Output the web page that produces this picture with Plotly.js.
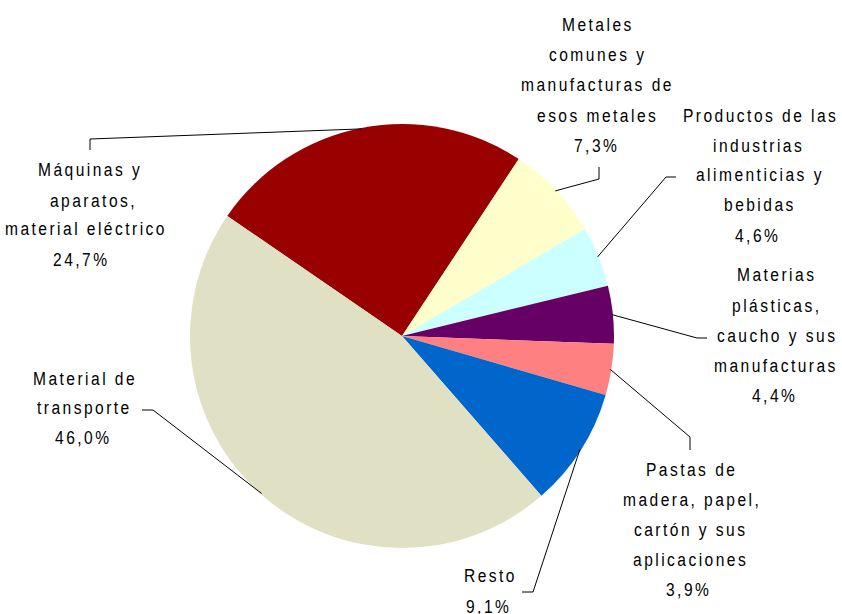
<!DOCTYPE html>
<html>
<head>
<meta charset="utf-8">
<script src="https://cdn.plot.ly/plotly-3.0.1.min.js"></script>
<style>
  html, body { margin: 0; padding: 0; background: #fff; }
  #chart { width: 842px; height: 614px; }
  .annotation-text {
    letter-spacing: 3px;
    transform: scaleX(0.82);
    transform-box: fill-box;
    transform-origin: center;
  }
</style>
</head>
<body>
<div id="chart"></div>
<script>
// ---- data ----
const categories = [
  "Máquinas y aparatos, material eléctrico",
  "Metales comunes y manufacturas de esos metales",
  "Productos de las industrias alimenticias y bebidas",
  "Materias plásticas, caucho y sus manufacturas",
  "Pastas de madera, papel, cartón y sus aplicaciones",
  "Resto",
  "Material de transporte"
];
const values = [24.7, 7.3, 4.6, 4.4, 3.9, 9.1, 46.0];
const labelLines = [
  ["Máquinas y", "aparatos,", "material eléctrico", "24,7%"],
  ["Metales", "comunes y", "manufacturas de", "esos metales", "7,3%"],
  ["Productos de las", "industrias", "alimenticias y", "bebidas", "4,6%"],
  ["Materias", "plásticas,", "caucho y sus", "manufacturas", "4,4%"],
  ["Pastas de", "madera, papel,", "cartón y sus", "aplicaciones", "3,9%"],
  ["Resto", "9,1%"],
  ["Material de", "transporte", "46,0%"]
];
const colors = ["#990000", "#FFFFCC", "#CCFFFF", "#660066", "#FF8080", "#0066CC", "#E0E0C4"];

// ---- layout (pixel geometry) ----
const W = 842, H = 614;
const CX = 402, CY = 336, R = 212;
const ROT = -55.5;
// label line positions [centerX, centerY] per line
const labelPos = [
  [[90,170],[93,201],[86,229],[81,260]],
  [[598,25],[597,55],[597,85],[597,116],[596,146]],
  [[760,116],[758,146],[760,175],[760,205],[757,236]],
  [[776,275],[776,306],[777,336],[776,366],[774,396]],
  [[691,470],[692,500],[690,530],[690,560],[688,590]],
  [[490,576],[488,607]],
  [[85,379],[84,408],[83,438]]
];
// leader line elbows (after the slice anchor point)
const leaderPts = [
  [[90,139],[90,150]],
  [[599,179],[599,167]],
  [[666,177],[676,177]],
  [[697,338],[707,338]],
  [[690,437],[690,450]],
  [[533,592],[522,592]],
  [[153,410],[142,410]]
];

const px = x => x / W;
const py = y => 1 - y / H;

const total = values.reduce((a, b) => a + b, 0);
let cum = 0;
const shapes = [];
values.forEach((v, i) => {
  const mid = (ROT + (cum + v / 2) / total * 360) * Math.PI / 180;
  cum += v;
  const ax = CX + (R - 1) * Math.sin(mid);
  const ay = CY - (R - 1) * Math.cos(mid);
  let path = `M ${px(ax)},${py(ay)}`;
  leaderPts[i].forEach(p => { path += ` L ${px(p[0])},${py(p[1])}`; });
  shapes.push({
    type: "path", xref: "paper", yref: "paper", path: path,
    line: { color: "#000000", width: 1 }
  });
});

const annotations = [];
labelLines.forEach((lines, i) => {
  lines.forEach((t, j) => {
    const p = labelPos[i][j];
    annotations.push({
      text: t, xref: "paper", yref: "paper",
      x: px(p[0]), y: py(p[1]), xanchor: "center", yanchor: "middle",
      showarrow: false,
      font: { family: "'Liberation Sans', Arial, sans-serif", size: 19, color: "#000000" }
    });
  });
});

const trace = {
  type: "pie",
  labels: categories,
  values: values,
  sort: false,
  direction: "clockwise",
  rotation: ROT,
  textinfo: "none",
  hoverinfo: "label+percent",
  marker: { colors: colors, line: { width: 0 } },
  domain: { x: [px(CX - R), px(CX + R)], y: [py(CY + R), py(CY - R)] },
  showlegend: false
};

const layout = {
  width: W, height: H,
  margin: { l: 0, r: 0, t: 0, b: 0 },
  paper_bgcolor: "#ffffff",
  showlegend: false,
  shapes: shapes,
  annotations: annotations
};

Plotly.newPlot("chart", [trace], layout, { displayModeBar: false, staticPlot: true });
</script>
</body>
</html>
